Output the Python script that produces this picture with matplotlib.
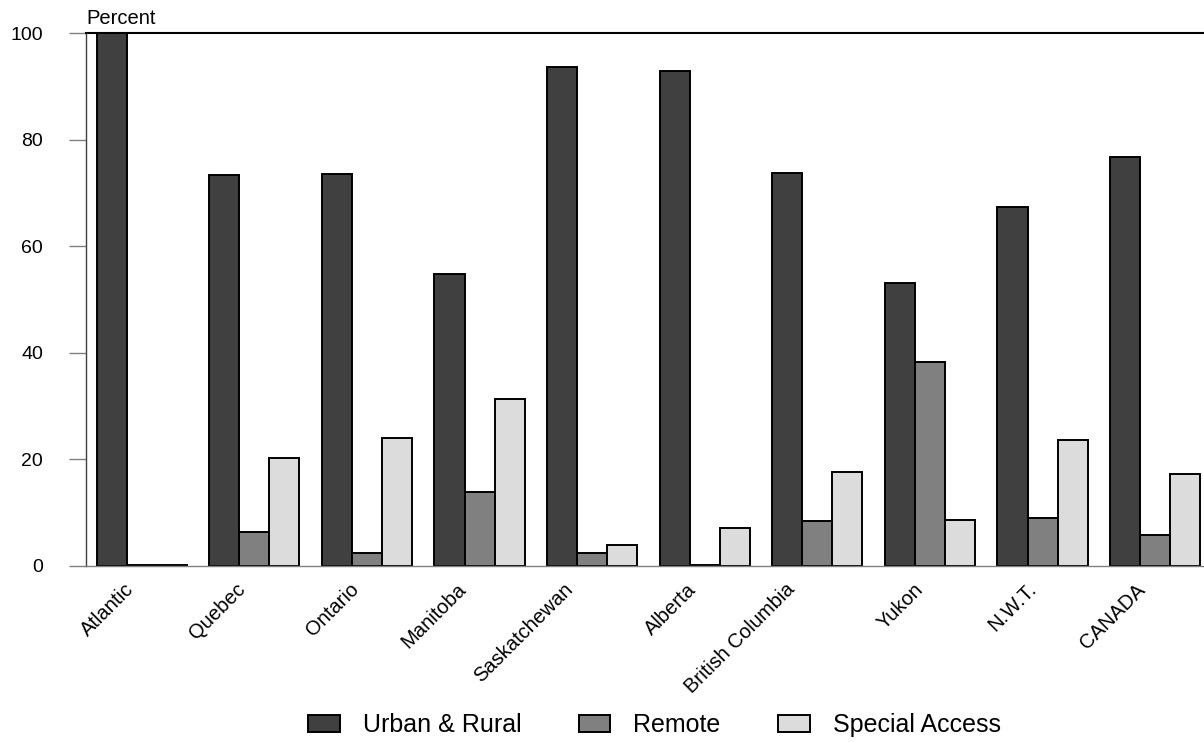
import numpy as np
import matplotlib
matplotlib.use("Agg")
import matplotlib.pyplot as plt
from matplotlib.transforms import ScaledTranslation

plt.rcParams["font.family"] = ["Liberation Sans", "DejaVu Sans"]

# === DATA ===
regions = ["Atlantic", "Quebec", "Ontario", "Manitoba", "Saskatchewan",
           "Alberta", "British Columbia", "Yukon", "N.W.T.", "CANADA"]
urban_rural = [100.0, 73.4, 73.5, 54.8, 93.6, 92.9, 73.7, 53.1, 67.4, 76.7]
remote = [0.1, 6.3, 2.4, 13.9, 2.4, 0.1, 8.4, 38.3, 9.0, 5.8]
special_access = [0.1, 20.3, 24.0, 31.3, 3.9, 7.1, 17.6, 8.6, 23.6, 17.3]
series_names = ["Urban & Rural", "Remote", "Special Access"]
yticks = [0, 20, 40, 60, 80, 100]

# === STYLE ===
colors = ["#404040", "#808080", "#dcdcdc"]
bar_w = 0.2667
# small per-label horizontal nudges (pixels) to follow the original placement
label_nudge = [-10, -11, -10, -15, -21, -10, -24, -8, -8, -12]

fig = plt.figure(figsize=(12.04, 7.42), dpi=100)
ax = fig.add_axes([86 / 1204, 1 - 566 / 742, 1 - 86 / 1204, (566 - 33) / 742])

x = np.arange(len(regions))
for k, vals in enumerate([urban_rural, remote, special_access]):
    ax.bar(x + (k - 1) * bar_w, vals, width=bar_w, color=colors[k],
           edgecolor="black", linewidth=1.4, label=series_names[k])

ax.set_xlim(-0.495, 9.434)
ax.set_ylim(0, 100)
ax.set_yticks(yticks)
ax.tick_params(axis="y", length=12, width=1, color="#808080", pad=19,
               labelsize=14)
ax.tick_params(axis="x", length=0, pad=10, labelsize=14.5)

ax.set_xticks(x)
ax.set_xticklabels(regions)
for lbl, dx in zip(ax.get_xticklabels(), label_nudge):
    lbl.set_rotation(45)
    lbl.set_rotation_mode("anchor")
    lbl.set_ha("right")
    lbl.set_va("top")
    lbl.set_transform(lbl.get_transform() +
                      ScaledTranslation((dx - 8) / 100, 0, fig.dpi_scale_trans))

ax.spines["right"].set_visible(False)
ax.spines["top"].set_color("black")
ax.spines["top"].set_linewidth(1.5)
ax.spines["left"].set_color("#404040")
ax.spines["left"].set_linewidth(1)
ax.spines["bottom"].set_color("#808080")
ax.spines["bottom"].set_linewidth(1)

fig.text(86 / 1204, 1 - 24 / 742, "Percent", fontsize=14.5, va="baseline", ha="left")

fig.legend(loc="center", bbox_to_anchor=(654.5 / 1204, 1 - 725 / 742),
           ncol=3, frameon=False, fontsize=18, handlelength=1.26,
           handleheight=0.68, handletextpad=0.92, columnspacing=2.3,
           borderpad=0, borderaxespad=0)

fig.savefig("out.png", dpi=100)
